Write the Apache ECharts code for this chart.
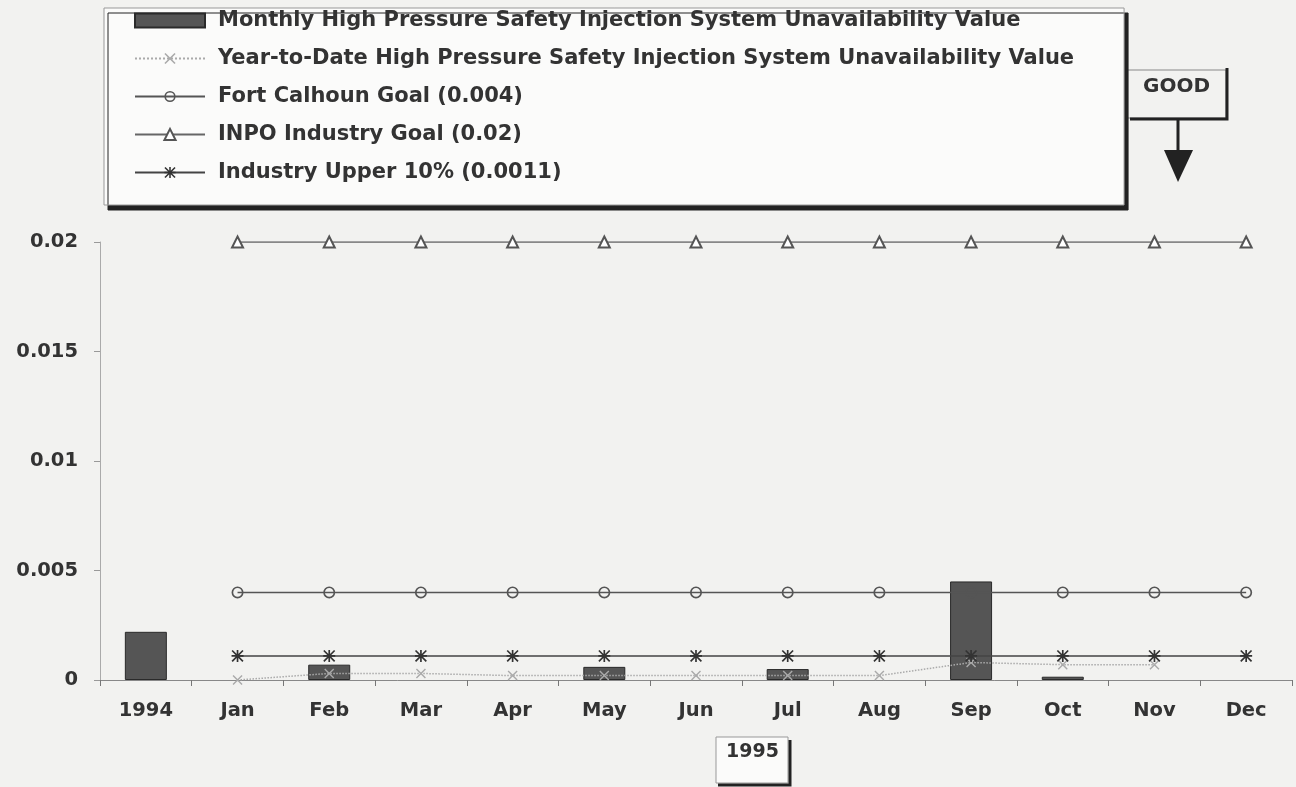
<!DOCTYPE html>
<html>
<head>
<meta charset="utf-8">
<script src="https://cdn.jsdelivr.net/npm/echarts@6/dist/echarts.min.js"></script>
<style>
  html, body { margin: 0; padding: 0; background: #f2f2f0; }
  #chart { width: 1296px; height: 787px; }
</style>
</head>
<body>
<div id="chart"></div>
<script>
// categories and values
const categories = ['1994', 'Jan', 'Feb', 'Mar', 'Apr', 'May', 'Jun', 'Jul', 'Aug', 'Sep', 'Oct', 'Nov', 'Dec'];
const monthlyValue = [0.0022, null, 0.0007, null, null, 0.0006, null, 0.0005, null, 0.0045, 0.00015, null, null];
const ytdValue = [null, 0, 0.0003, 0.0003, 0.0002, 0.0002, 0.0002, 0.0002, 0.0002, 0.0008, 0.0007, 0.0007, null];
const fortCalhounGoal = [null, 0.004, 0.004, 0.004, 0.004, 0.004, 0.004, 0.004, 0.004, 0.004, 0.004, 0.004, 0.004];
const inpoGoal = [null, 0.02, 0.02, 0.02, 0.02, 0.02, 0.02, 0.02, 0.02, 0.02, 0.02, 0.02, 0.02];
const upper10 = [null, 0.0011, 0.0011, 0.0011, 0.0011, 0.0011, 0.0011, 0.0011, 0.0011, 0.0011, 0.0011, 0.0011, 0.0011];
const yTicks = { min: 0, max: 0.02, interval: 0.005 };

const names = [
  'Monthly High Pressure Safety Injection System Unavailability Value',
  'Year-to-Date High Pressure Safety Injection System Unavailability Value',
  'Fort Calhoun Goal (0.004)',
  'INPO Industry Goal (0.02)',
  'Industry Upper 10% (0.0011)'
];

const font = '"DejaVu Sans", Verdana, sans-serif';
const ink = '#333';
const starPath = 'path://M0,4.3 L10,4.3 L10,5.7 L0,5.7Z M4.3,0 L5.7,0 L5.7,10 L4.3,10Z M1,0 L10,9 L9,10 L0,1Z M9,0 L10,1 L1,10 L0,9Z';
const crossPath = 'path://M1,0 L10,9 L9,10 L0,1Z M9,0 L10,1 L1,10 L0,9Z';
const ringPath = 'path://M5,0 A5,5 0 1,1 4.99,0 Z M5,1.4 A3.6,3.6 0 1,0 5.01,1.4 Z';

const chart = echarts.init(document.getElementById('chart'));

const option = {
  backgroundColor: '#f2f2f0',
  animation: false,
  textStyle: { fontFamily: font },
  legend: {
    orient: 'vertical',
    left: 104,
    top: 8,
    padding: [2, 50, 22, 30],
    itemWidth: 70,
    itemHeight: 14,
    itemGap: 17,
    backgroundColor: '#fbfbfa',
    borderColor: '#999',
    borderWidth: 1,
    shadowColor: '#222',
    shadowOffsetX: 4,
    shadowOffsetY: 5,
    shadowBlur: 0,
    textStyle: { fontSize: 21, fontWeight: 'bold', color: ink, fontFamily: font, padding: [0, 0, 0, 8] },
    data: [{ name: names[0], icon: 'rect' }, names[1], names[2], names[3], names[4]]
  },
  grid: { left: 100, right: 4, top: 242, bottom: 107 },
  xAxis: {
    type: 'category',
    data: categories,
    axisLine: { lineStyle: { color: '#888', width: 1 } },
    axisTick: { show: true, length: 6, lineStyle: { color: '#777' } },
    axisLabel: { fontSize: 19.5, fontWeight: 'bold', color: ink, margin: 21, fontFamily: font },
    splitLine: { show: false }
  },
  yAxis: {
    type: 'value',
    min: yTicks.min,
    max: yTicks.max,
    interval: yTicks.interval,
    axisLine: { show: true, lineStyle: { color: '#aaa', width: 1 } },
    axisTick: { show: true, length: 6, lineStyle: { color: '#999' } },
    axisLabel: { fontSize: 19.5, fontWeight: 'bold', color: ink, margin: 22, fontFamily: font },
    splitLine: { show: false }
  },
  series: [
    {
      name: names[0],
      type: 'bar',
      data: monthlyValue,
      barWidth: 42,
      itemStyle: { color: '#555', borderColor: '#2a2a2a', borderWidth: 1 },
      z: 2
    },
    {
      name: names[1],
      type: 'line',
      data: ytdValue,
      symbol: crossPath,
      symbolSize: 10,
      lineStyle: { color: '#aaa', width: 1.5, type: 'dotted' },
      itemStyle: { color: '#aaa' },
      z: 3
    },
    {
      name: names[2],
      type: 'line',
      data: fortCalhounGoal,
      symbol: ringPath,
      symbolSize: 12,
      lineStyle: { color: '#555', width: 1.5 },
      itemStyle: { color: '#555' },
      z: 4
    },
    {
      name: names[3],
      type: 'line',
      data: inpoGoal,
      symbol: 'emptyTriangle',
      symbolSize: 11,
      lineStyle: { color: '#666', width: 1.5 },
      itemStyle: { color: '#555', borderWidth: 1.3 },
      z: 4
    },
    {
      name: names[4],
      type: 'line',
      data: upper10,
      symbol: starPath,
      symbolSize: 12,
      lineStyle: { color: '#444', width: 1.5 },
      itemStyle: { color: '#333' },
      z: 4
    }
  ],
  graphic: [
    // GOOD label with arrow
    { type: 'polyline', shape: { points: [[1128, 70], [1226, 70], [1226, 118], [1128, 118]] }, style: { stroke: '#888', lineWidth: 1, fill: null } },
    { type: 'polyline', shape: { points: [[1227, 68], [1227, 119], [1130, 119]] }, style: { stroke: '#222', lineWidth: 3, fill: null } },
    { type: 'text', left: 1143, top: 77, style: { text: 'GOOD', font: 'bold 20px ' + font, fill: ink } },
    { type: 'line', shape: { x1: 1178, y1: 119, x2: 1178, y2: 152 }, style: { stroke: '#222', lineWidth: 3 } },
    { type: 'polygon', shape: { points: [[1164, 150], [1193, 150], [1178, 182]] }, style: { fill: '#222' } },
    // 1995 label
    { type: 'rect', shape: { x: 716, y: 737, width: 72, height: 46 }, style: { fill: '#fbfbfa', stroke: '#999', lineWidth: 1 } },
    { type: 'polyline', shape: { points: [[790, 740], [790, 785], [718, 785]] }, style: { stroke: '#222', lineWidth: 3, fill: null } },
    { type: 'text', left: 726, top: 743, style: { text: '1995', font: 'bold 19px ' + font, fill: ink } }
  ]
};

chart.setOption(option);
</script>
</body>
</html>
